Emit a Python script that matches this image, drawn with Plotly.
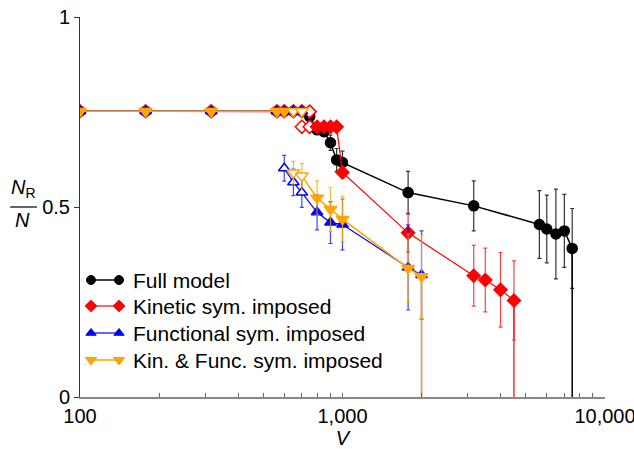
import plotly.graph_objects as go

FONT = "Liberation Sans, Arial, Helvetica, sans-serif"

# ---------------- data ----------------
full_x = [100, 177.8, 316.2, 562.3, 600, 650, 700, 750, 800, 850, 900, 950, 1000,
          1778, 3162, 5623, 6000, 6500, 7000, 7500, 7500]
full_y = [0.752, 0.752, 0.752, 0.752, 0.752, 0.752, 0.752, 0.738, 0.703, 0.698, 0.669,
          0.624, 0.617, 0.538, 0.503, 0.454, 0.442, 0.429, 0.437, 0.391, -0.1]
full_err = [0, 0, 0, 0, 0, 0, 0, 0.008, 0.01, 0.012, 0.02, 0.03, 0.03,
            0.056, 0.066, 0.089, 0.089, 0.118, 0.096, 0.105, 0]
full_open = [0] * 21

kin_x = [100, 177.8, 316.2, 562.3, 600, 650, 700, 750, None, 700, 750, 800, 850, 900,
         950, 1000, 1778, 3162, 3500, 4000, 4500, 4500]
kin_y = [0.752, 0.752, 0.752, 0.752, 0.752, 0.752, 0.752, 0.751, None, 0.711, 0.711,
         0.711, 0.711, 0.711, 0.711, 0.591, 0.432, 0.319, 0.308, 0.282, 0.254, -0.1]
kin_err = [0, 0, 0, 0, 0, 0, 0, 0, None, 0, 0, 0, 0, 0, 0, 0.015, 0.051, 0.08,
           0.084, 0.098, 0.104, 0]
kin_open = [0, 0, 0, 0, 0, 0, 0, 1, 0, 1, 1, 0, 0, 0, 0, 0, 0, 0, 0, 0, 0, 0]

fun_x = [100, 177.8, 316.2, 562.3, 600, 650, 700, None, 600, 650, 700, 800, 900, 1000,
         1778, 2000, 2000]
fun_y = [0.752, 0.752, 0.752, 0.752, 0.752, 0.752, 0.752, None, 0.602, 0.565, 0.538,
         0.486, 0.459, 0.454, 0.341, 0.321, -0.1]
fun_err = [0, 0, 0, 0, 0, 0, 0, None, 0.034, 0.035, 0.039, 0.046, 0.055, 0.067,
           0.112, 0.116, 0]
fun_open = [0, 0, 0, 0, 0, 0, 0, 0, 1, 1, 1, 0, 0, 0, 0, 0, 0]

kf_x = [100, 177.8, 316.2, 562.3, 600, 650, 700, None, 650, 700, 800, 900, 1000,
        1778, 2000, 2000]
kf_y = [0.752, 0.752, 0.752, 0.752, 0.752, 0.752, 0.752, None, 0.59, 0.582, 0.524,
        0.494, 0.468, 0.339, 0.317, -0.1]
kf_err = [0, 0, 0, 0, 0, 0, 0, None, 0.03, 0.032, 0.045, 0.058, 0.06, 0.09, 0.11, 0]
kf_open = [0, 0, 0, 0, 0, 1, 1, 0, 1, 1, 0, 0, 0, 0, 0, 0]

series_names = ["Full model", "Kinetic sym. imposed", "Functional sym. imposed",
                "Kin. & Func. sym. imposed"]

x_tickvals = [100, 1000, 10000]
x_ticktext = ["100", "1,000", "10,000"]
x_minor = [200, 300, 400, 500, 600, 700, 800, 900,
           2000, 3000, 4000, 5000, 6000, 7000, 8000, 9000]
y_tickvals = [0, 0.5, 1]
y_ticktext = ["0", "0.5", "1"]

series = [
    (series_names[0], full_x, full_y, full_err, full_open, "black", "rgba(0,0,0,0.8)",
     "circle", 10, 1.5),
    (series_names[1], kin_x, kin_y, kin_err, kin_open, "#ff0000", "rgba(255,0,0,0.75)",
     "diamond", 10, 1.2),
    (series_names[2], fun_x, fun_y, fun_err, fun_open, "#0000ff", "rgba(0,0,255,0.75)",
     "triangle-up", 10, 1.2),
    (series_names[3], kf_x, kf_y, kf_err, kf_open, "#ffa500", "rgba(255,165,0,0.8)",
     "triangle-down", 11, 1.5),
]

fig = go.Figure()
for name, xs, ys, errs, opens, col, ecol, sym, sz, lw in series:
    fills = ["white" if o else col for o in opens]
    fig.add_trace(go.Scatter(
        x=xs, y=ys, name=name, mode="lines+markers", showlegend=False,
        connectgaps=False,
        line=dict(color=col, width=lw),
        marker=dict(symbol=sym, size=sz, color=fills,
                    line=dict(color=col, width=1.5)),
        error_y=dict(type="data", array=errs, visible=True, color=ecol,
                     thickness=1.2, width=2),
    ))

# ---------------- custom legend (two markers joined by a line, like the original) ----
PL, PR, PT, PB = 80, 605, 17, 397  # plot-area pixel box


def px2x(p):
    return (p - PL) / (PR - PL)


def py2y(p):
    return (PB - p) / (PB - PT)


leg_rows = [280, 306, 333, 360]
for (name, xs, ys, errs, opens, col, ecol, sym, sz, lw), ry in zip(series, leg_rows):
    fig.add_trace(go.Scatter(
        x=[px2x(91), px2x(119)], y=[py2y(ry), py2y(ry)], xaxis="x2", yaxis="y2",
        mode="lines+markers", showlegend=False, hoverinfo="skip",
        line=dict(color=col, width=lw),
        marker=dict(symbol=sym, size=sz - 1, color=col, line=dict(color=col, width=1)),
    ))
    fig.add_annotation(xref="paper", yref="paper", x=px2x(131), y=py2y(ry),
                       text=name, showarrow=False, xanchor="left", yanchor="middle",
                       font=dict(family=FONT, size=21, color="black"))

fig.update_layout(
    width=634, height=449,
    margin=dict(l=PL, r=634 - PR, t=PT, b=449 - PB, autoexpand=False),
    paper_bgcolor="white", plot_bgcolor="white",
    font=dict(family=FONT, size=20, color="black"),
    showlegend=False,
    xaxis=dict(type="log", range=[2, 4], tickvals=x_tickvals, ticktext=x_ticktext,
               ticks="inside", ticklen=4, tickcolor="#666", showgrid=False,
               zeroline=False, showline=True, linecolor="#888", linewidth=1.5,
               automargin=False, ticklabeloverflow="allow",
               minor=dict(tickvals=x_minor, ticks="inside", ticklen=4, tickcolor="#666"),
               title=dict(text="<i>V</i>", standoff=2, font=dict(size=20))),
    yaxis=dict(range=[0, 1], tickvals=y_tickvals, ticktext=y_ticktext,
               ticks="outside", ticklen=5, tickcolor="#333", showgrid=False,
               zeroline=False, showline=True, linecolor="#333", linewidth=1,
               automargin=False),
    xaxis2=dict(overlaying="x", range=[0, 1], visible=False, fixedrange=True),
    yaxis2=dict(overlaying="y", range=[0, 1], visible=False, fixedrange=True),
)

# y-axis title as a fraction N_R / N
fig.add_annotation(xref="paper", yref="paper", x=-0.107, y=0.548,
                   text="<i>N</i><sub>R</sub>", showarrow=False,
                   font=dict(family=FONT, size=20), xanchor="center", yanchor="middle")
fig.add_shape(type="line", xref="paper", yref="paper", x0=-0.133, x1=-0.082,
              y0=0.5, y1=0.5, line=dict(color="black", width=1.2))
fig.add_annotation(xref="paper", yref="paper", x=-0.11, y=0.465,
                   text="<i>N</i>", showarrow=False,
                   font=dict(family=FONT, size=20), xanchor="center", yanchor="middle")

fig.write_html("out.html")
